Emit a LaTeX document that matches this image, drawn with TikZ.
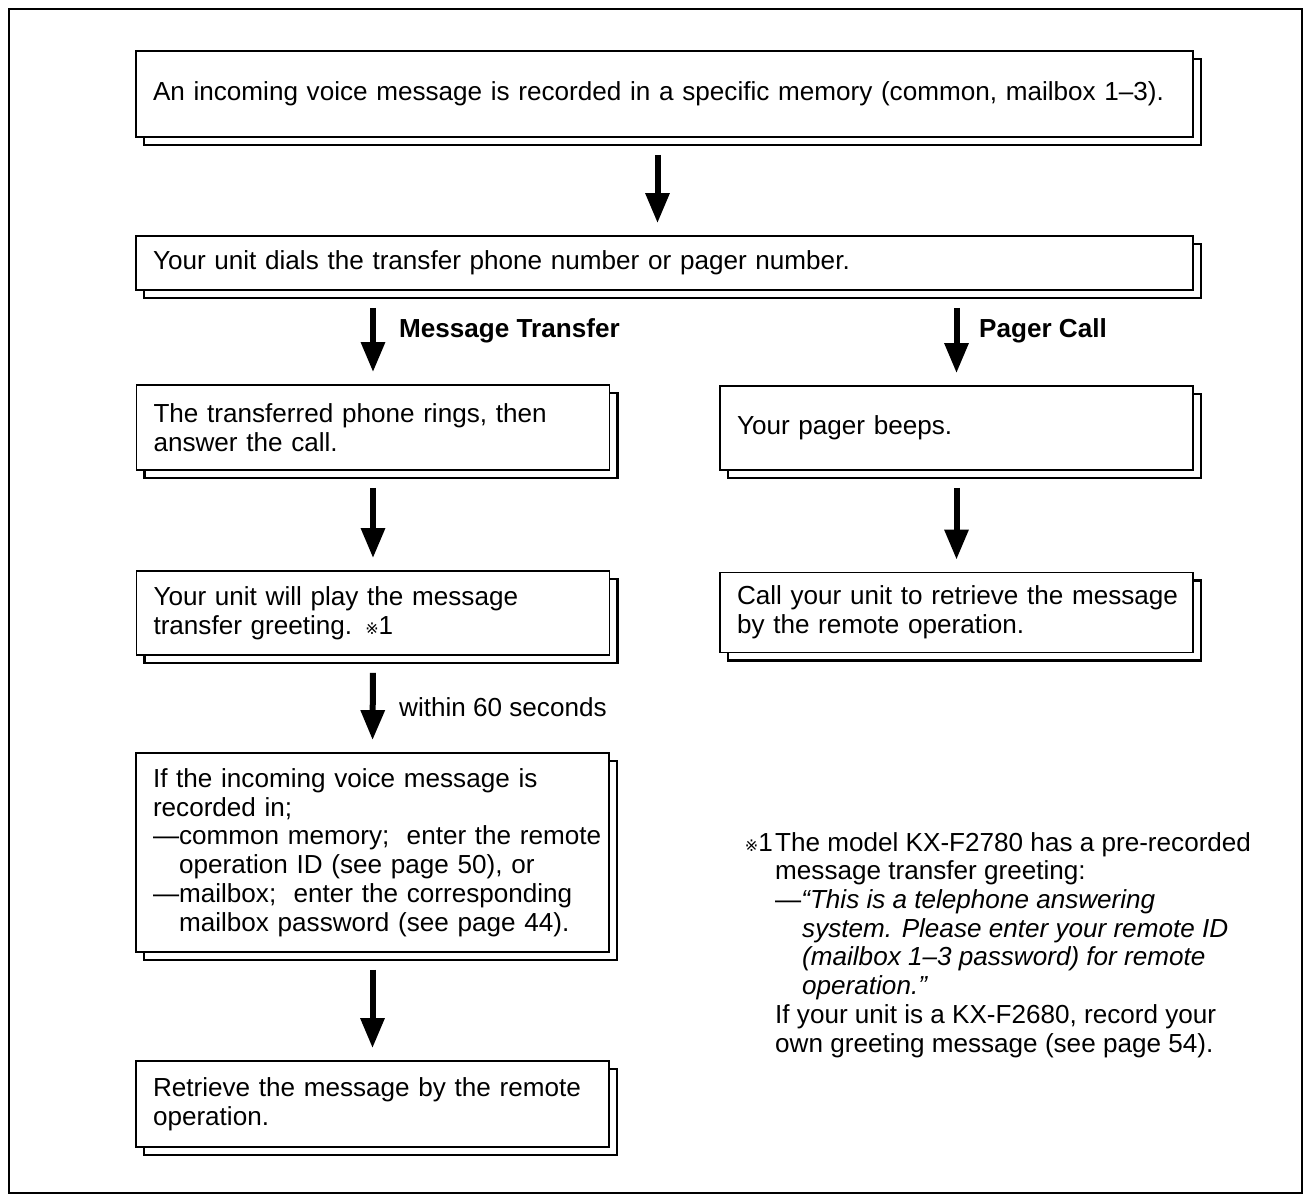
\documentclass[tikz,border=0pt]{standalone}
\usepackage{fontspec}
\setmainfont{Liberation Sans}
\newfontfamily\dv{DejaVu Sans}
\usetikzlibrary{arrows.meta,shadows}
\newcommand{\refmark}{{\dv\fontsize{16}{20}\selectfont ※}}
\begin{document}
\begin{tikzpicture}[x=1pt,y=-1pt,
  every node/.style={font=\fontsize{26.1}{28.7}\selectfont},
  box/.style={draw=black, fill=white, line width=1.8pt, inner xsep=17pt, inner ysep=3pt,
    align=left, anchor=center,
    general shadow={shadow xshift=8pt, shadow yshift=-8pt, draw=black, fill=white, line width=2.4pt}},
  bigarrow/.style={line width=6pt, -{Triangle[length=30pt,width=23pt]}, shorten <=17pt, shorten >=12pt},
  lbl/.style={inner sep=0pt, anchor=west},
  frame/.style={draw=black, line width=2pt}]
\useasboundingbox (0,0) rectangle (1306,1195);
\draw[frame] (9,9) rectangle (1302,1193);

\node[box, minimum width=1057pt, minimum height=86pt, text width=1023pt] (b1) at (664.5,94)
  {\mbox{An incoming voice message is recorded in a specific memory (common, mailbox 1--3).}};
\node[box, minimum width=1057pt, minimum height=54pt, text width=1023pt] (b2) at (664.5,263)
  {Your unit dials the transfer phone number or pager number.};
\node[box, minimum width=473pt, minimum height=85pt, text width=439pt] (b3) at (373,427.5)
  {\mbox{The transferred phone rings, then}\\answer the call.};
\node[box, minimum width=473pt, minimum height=84pt, text width=439pt] (b4) at (956.5,428)
  {Your pager beeps.};
\node[box, minimum width=473pt, minimum height=84pt, text width=439pt] (b5) at (373,613)
  {\mbox{Your unit will play the message}\\transfer greeting. \refmark1};
\node[box, minimum width=473pt, minimum height=80pt, text width=439pt] (b6) at (956.5,612.5)
  {\mbox{Call your unit to retrieve the message}\\\mbox{by the remote operation.}};
\node[box, minimum width=473pt, minimum height=199pt, text width=439pt] (b7) at (372.5,852.5)
  {\mbox{If the incoming voice message is}\\
   recorded in;\\
   \mbox{—common memory;\ \ enter the remote}\\
   \mbox{\hphantom{—}operation ID (see page 50), or}\\
   \mbox{—mailbox;\ \ enter the corresponding}\\
   \mbox{\hphantom{—}mailbox password (see page 44).}};
\node[box, minimum width=473pt, minimum height=86pt, text width=439pt] (b8) at (372.5,1104)
  {\mbox{Retrieve the message by the remote}\\operation.};

\draw[bigarrow] ([xshift=-7pt]b1.south) -- ([xshift=-7pt]b2.north);
\draw[bigarrow] (b2.south -| b3.north) -- (b3.north);
\draw[bigarrow] (b2.south -| b4.north) -- (b4.north);
\draw[bigarrow] (b3.south) -- (b5.north);
\draw[bigarrow] (b4.south) -- (b6.north);
\draw[bigarrow] (b5.south) -- (b7.north);
\draw[bigarrow] (b7.south) -- (b8.north);

\node[lbl, font=\fontsize{26.1}{28.7}\selectfont\bfseries] (lmt) at (399,331) {Message Transfer};
\node[lbl, font=\fontsize{26.1}{28.7}\selectfont\bfseries] (lpc) at (979,331) {Pager Call};
\node[lbl] (lw) at (399,707) {within 60 seconds};

\node[inner sep=0pt, anchor=base east] (mark) at (773,851) {\refmark1};
\node[inner sep=0pt, anchor=north west, align=left] (fn) at (775,832)
  {The model KX-F2780 has a pre-recorded\\
   message transfer greeting:\\
   —\textit{“This is a telephone answering}\\
   \hspace*{27pt}\textit{system. Please enter your remote ID}\\
   \hspace*{27pt}\textit{(mailbox 1–3 password) for remote}\\
   \hspace*{27pt}\textit{operation.”}\\
   If your unit is a KX-F2680, record your\\
   own greeting message (see page 54).};
\end{tikzpicture}
\end{document}
